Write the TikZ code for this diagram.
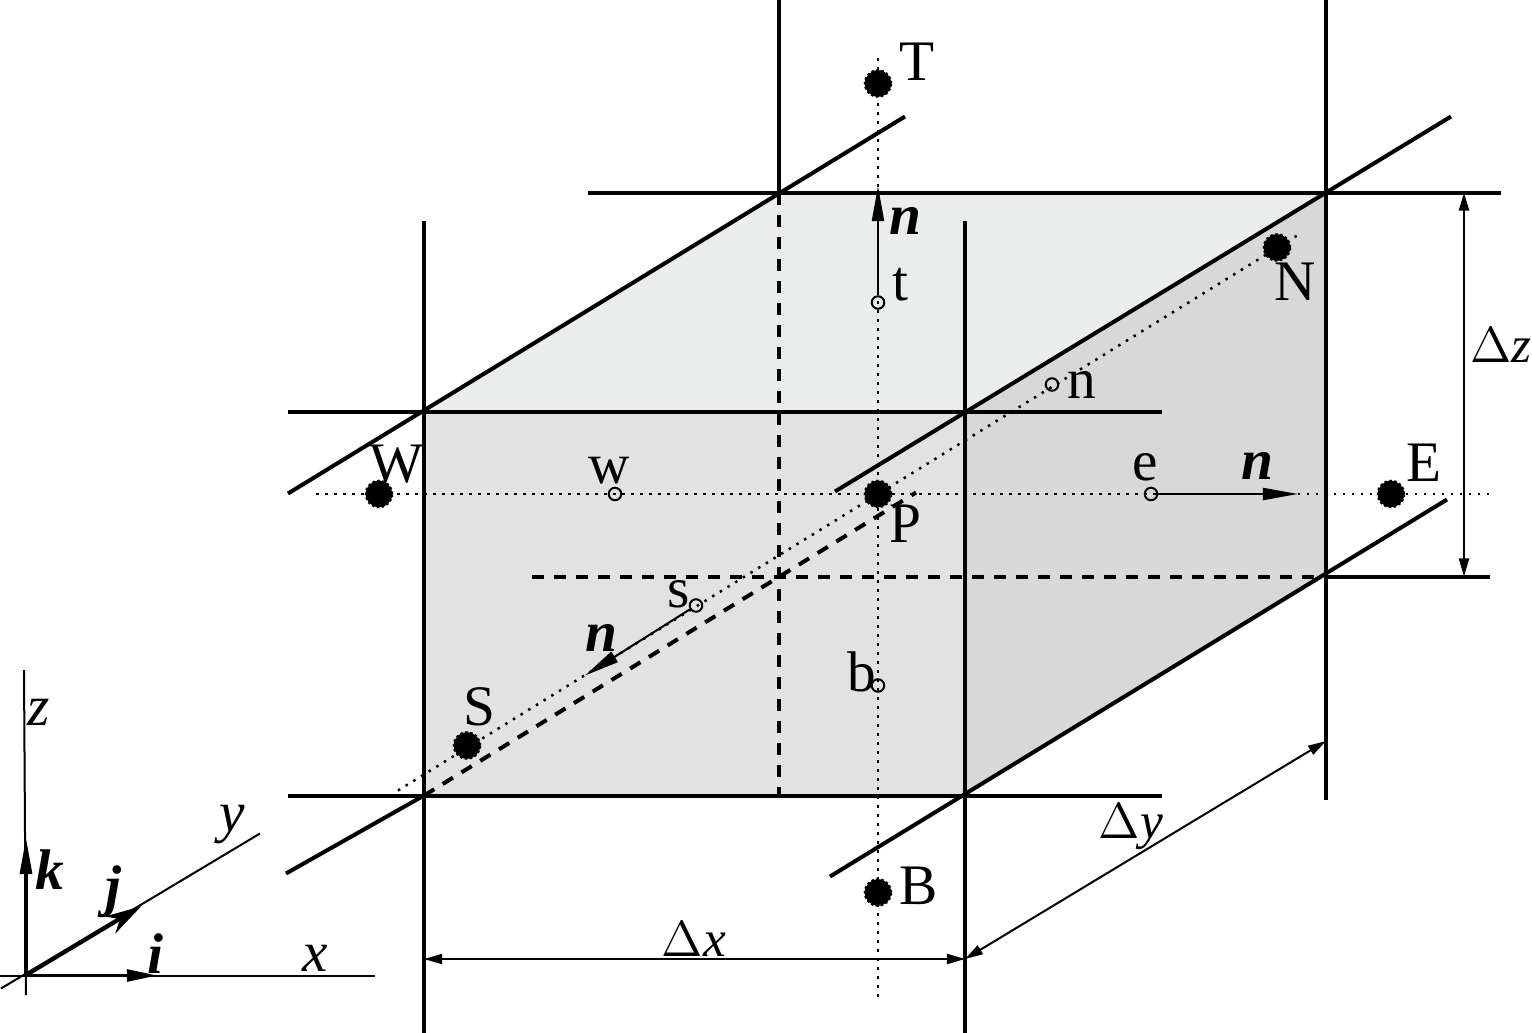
\documentclass[tikz,border=0pt]{standalone}
\usepackage{amsmath}
\usepackage{fontspec}
\setmainfont{Liberation Serif}
\usepackage{tikz}
\usetikzlibrary{arrows.meta}

\definecolor{facefront}{HTML}{E2E2E2}
\definecolor{facetop}{HTML}{EBEDEC}
\definecolor{faceside}{HTML}{D8D8D8}

\tikzset{
    gridline/.style={line width=0.04cm},
    gridhidden/.style={line width=0.04cm, dash pattern=on 0.12cm off 0.1cm},
    linkdot/.style={line width=0.025cm, dash pattern=on 0.025cm off 0.065cm},
    thinline/.style={line width=0.02cm},
    nodept/.style={circle, fill=black, draw=black, line width=0.02cm, dash pattern=on 0.025cm off 0.025cm, inner sep=0pt, minimum size=0.265cm},
    facept/.style={circle, draw, line width=0.02cm, inner sep=0pt, minimum size=0.125cm},
    lab/.style={inner sep=0pt, font=\fontsize{16.3}{19}\selectfont},
    dimlab/.style={inner sep=0pt, font=\fontsize{14.6}{18}\selectfont},
    veclab/.style={inner sep=0pt, font=\fontsize{16.3}{19}\selectfont\bfseries\itshape},
    normaltip/.style={-{Triangle[length=0.35cm,width=0.12cm]}, line width=0.02cm},
    dimtip/.style={{Triangle[length=0.18cm,width=0.1cm]}-{Triangle[length=0.18cm,width=0.1cm]}, line width=0.02cm},
}

\begin{document}
\begin{tikzpicture}[x=0.01cm, y=-0.01cm]
                \useasboundingbox (0, 0) rectangle (1532, 1033);

                % cell corners
                \coordinate (fsw) at (424, 795.5);
                \coordinate (fse) at (965, 795.5);
                \coordinate (fnw) at (424, 411.5);
                \coordinate (fne) at (965, 411.5);
                \coordinate (bsw) at (779, 576.5);
                \coordinate (bse) at (1326, 576.5);
                \coordinate (bnw) at (779, 192.5);
                \coordinate (bne) at (1326, 192.5);

                % faces
                \fill[facefront] (fsw) -- (fse) -- (fne) -- (fnw) -- cycle;
                \fill[facetop] (fnw) -- (fne) -- (bne) -- (bnw) -- cycle;
                \fill[faceside] (fse) -- (bse) -- (bne) -- (fne) -- cycle;

                % grid lines
                \draw[gridline] (779, 0) -- (bnw);
                \draw[gridline] (1326, 0) -- (1326, 800);
                \draw[gridline] (424, 221) -- (424, 1033);
                \draw[gridline] (965, 221) -- (965, 1033);

                \draw[gridline] (588, 192.5) -- (1501, 192.5);
                \draw[gridline] (288, 411.5) -- (1162, 411.5);
                \draw[gridline] (288, 795.5) -- (1162, 795.5);
                \draw[gridline] (bse) -- (1490, 576.5);

                \draw[gridline] (288, 493.5) -- (905, 116.5);
                \draw[gridline] (835, 491.5) -- (1451, 116.5);
                \draw[gridline] (830, 876.5) -- (1447, 499.5);
                \draw[gridline] (286, 873.5) -- (fsw);

                \draw[gridhidden] (bnw) -- (779, 795.5);
                \draw[gridhidden] (532, 576.5) -- (bse);
                \draw[gridhidden] (fsw) -- (916, 492.5);

                % lines through the nodes
                \draw[linkdot] (316, 494) -- (1494, 494);
                \draw[linkdot] (878, 58) -- (878, 1002);
                \draw[linkdot] (398, 790.5) -- (1302, 232.5);

                % main nodes
                \node[nodept] (T) at (878, 83.5) {};
                \node[nodept] (W) at (379, 494) {};
                \node[nodept] (P) at (878, 494) {};
                \node[nodept] (E) at (1391, 494) {};
                \node[nodept] (N) at (1277, 247.5) {};
                \node[nodept] (S) at (467, 745.5) {};
                \node[nodept] (B) at (878, 892.5) {};

                % face points
                \node[facept] (tf) at (878, 302.5) {};
                \node[facept] (wf) at (615, 494) {};
                \node[facept] (ef) at (1151, 494) {};
                \node[facept] (nf) at (1052, 384.5) {};
                \node[facept] (sf) at (696, 605.5) {};
                \node[facept] (bf) at (878, 685.5) {};

                % normals
                \coordinate (ntip) at (878, 186);
                \coordinate (etip) at (1298, 494);
                \coordinate (stip) at (585, 675.5);
                \draw[normaltip] (tf) -- (ntip);
                \draw[normaltip] (ef) -- (etip);
                \draw[normaltip] (sf) -- (stip);
                \node[veclab] (nt) at (905, 221) {n};
                \node[veclab] (ne) at (1257, 466) {n};
                \node[veclab] (ns) at (601, 638) {n};

                \node[lab] (labT) at (917, 62) {T};
                \node[lab] (labW) at (397, 464) {W};
                \node[lab] (labP) at (905, 524) {P};
                \node[lab] (labE) at (1424, 463) {E};
                \node[lab] (labN) at (1295, 282) {N};
                \node[lab] (labS) at (479, 707) {S};
                \node[lab] (labB) at (919, 886) {B};
                \node[lab] (labt) at (900, 285) {t};
                \node[lab] (labw) at (609, 471) {w};
                \node[lab] (labe) at (1145, 467) {e};
                \node[lab] (labn) at (1082, 385) {n};
                \node[lab] (labs) at (679, 594) {s};
                \node[lab] (labb) at (862, 672) {b};

                % cell sizes
                \coordinate (dxa) at (424, 959);
                \coordinate (dxb) at (965, 959);
                \coordinate (dya) at (1326, 741);
                \coordinate (dza) at (1464, 192.5);
                \coordinate (dzb) at (1464, 576.5);
                \draw[dimtip] (dxa) -- (dxb);
                \draw[dimtip] (dxb) -- (dya);
                \draw[dimtip] (dza) -- (dzb);
                \node[dimlab] (labdx) at (694, 939) {$\Delta$\textit{x}};
                \node[dimlab] (labdy) at (1131, 827) {$\Delta$\textit{y}};
                \node[dimlab] (labdz) at (1501, 345) {$\Delta$\textit{z}};

                % axes
                \coordinate (orig) at (26, 975.5);
                \draw[thinline] (24, 670) -- (26, 995);
                \draw[thinline] (0, 975.5) -- (375, 975.5);
                \draw[thinline] (1, 988.5) -- (260, 833.5);
                \draw[-{Triangle[length=0.3cm,width=0.12cm]}, line width=0.025cm] (orig) -- (157, 975.5);
                \draw[-{Stealth[length=0.36cm,width=0.2cm]}, line width=0.035cm] (orig) -- (141, 906.5);
                \draw[-{Triangle[length=0.36cm,width=0.12cm]}, line width=0.03cm] (orig) -- (26, 838);
                \node[lab] (labx) at (315, 958) {\textit{x}};
                \node[lab] (laby) at (232, 825) {\textit{y}};
                \node[lab] (labz) at (39, 712) {\textit{z}};
                \node[veclab] (labi) at (155, 954) {i};
                \node[veclab] (labj) at (113, 892) {j};
                \node[veclab] (labk) at (50, 870) {k};
\end{tikzpicture}
\end{document}
